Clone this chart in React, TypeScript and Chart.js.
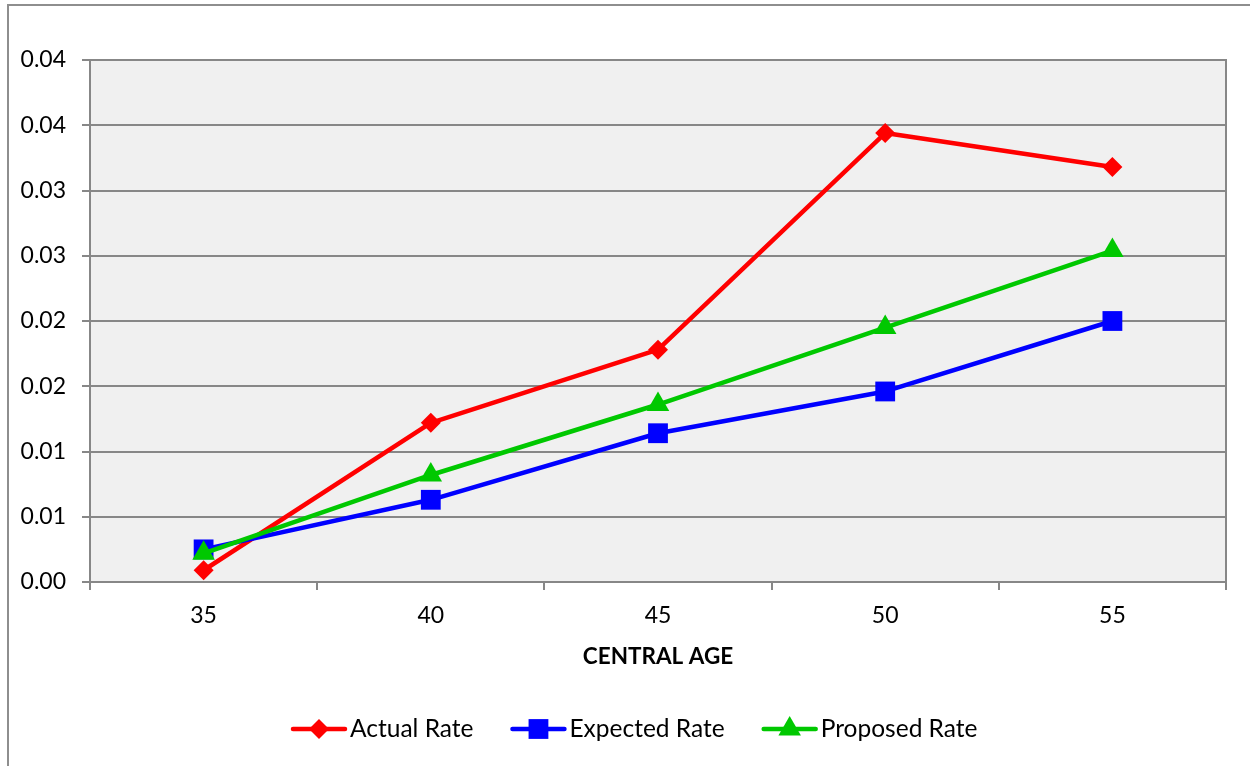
import { useEffect, useRef } from "react";
import { Chart, registerables } from "chart.js";

Chart.register(...registerables);

// Central ages on the category axis
const categories = ["35", "40", "45", "50", "55"];

// Rates per central age
const actualRate = [0.0009, 0.0122, 0.0178, 0.0344, 0.0318];
const expectedRate = [0.0025, 0.0063, 0.0114, 0.0146, 0.02];
const proposedRate = [0.0022, 0.0082, 0.0136, 0.0195, 0.0254];

const seriesNames = ["Actual Rate", "Expected Rate", "Proposed Rate"];

// Value axis: 0 .. 0.04 in steps of 0.005, labelled with two decimals (rounded half up)
const yMin = 0;
const yMax = 0.04;
const yStep = 0.005;
const yTickLabels = ["0.00", "0.01", "0.01", "0.02", "0.02", "0.03", "0.03", "0.04", "0.04"];

const xAxisTitle = "CENTRAL AGE";

const FONT = "Lato, 'Liberation Sans', sans-serif";
const GRID = "#878787";
const PLOT_BG = "#f0f0f0";
const RED = "#ff0000";
const BLUE = "#0000ff";
const GREEN = "#00c800";
const LINE_W = 4.5;

type Marker = "diamond" | "square" | "triangle";

function drawMarker(ctx: CanvasRenderingContext2D, kind: Marker, x: number, y: number, r: number, color: string) {
  ctx.save();
  ctx.fillStyle = color;
  ctx.beginPath();
  if (kind === "diamond") {
    ctx.moveTo(x - r, y);
    ctx.lineTo(x, y - r);
    ctx.lineTo(x + r, y);
    ctx.lineTo(x, y + r);
  } else if (kind === "square") {
    const s = r * Math.SQRT1_2;
    ctx.rect(x - s, y - s, 2 * s, 2 * s);
  } else {
    ctx.moveTo(x, y - r);
    ctx.lineTo(x + r * Math.sin((2 * Math.PI) / 3), y + r / 2);
    ctx.lineTo(x - r * Math.sin((2 * Math.PI) / 3), y + r / 2);
  }
  ctx.closePath();
  ctx.fill();
  ctx.restore();
}

// White page, outer chart frame and plot-area fill
const framePlugin = {
  id: "frame",
  beforeDraw(chart: any) {
    const { ctx, width, height, chartArea: a } = chart;
    ctx.save();
    ctx.fillStyle = "#ffffff";
    ctx.fillRect(0, 0, width, height);
    ctx.strokeStyle = "#8e8e8e";
    ctx.lineWidth = 2;
    ctx.beginPath();
    ctx.moveTo(8, height);
    ctx.lineTo(8, 5);
    ctx.lineTo(width, 5);
    ctx.stroke();
    ctx.fillStyle = PLOT_BG;
    ctx.fillRect(a.left, a.top, a.right - a.left, a.bottom - a.top);
    ctx.restore();
  },
  beforeDatasetsDraw(chart: any) {
    const { ctx, chartArea: a } = chart;
    ctx.save();
    ctx.strokeStyle = GRID;
    ctx.lineWidth = 2;
    ctx.strokeRect(a.left, a.top, a.right - a.left, a.bottom - a.top);
    ctx.restore();
  },
};

// Legend with a line segment and marker for each series
const markerKinds: Marker[] = ["diamond", "square", "triangle"];
const markerSizes = [10, 14, 13];

const lineLegendPlugin = {
  id: "lineLegend",
  afterDraw(chart: any) {
    const { ctx } = chart;
    const datasets = chart.data.datasets;
    const seg = 56;
    const gap = 3;
    const sep = 37;
    const y = 729;
    ctx.save();
    ctx.font = `24.5px ${FONT}`;
    const widths = datasets.map((d: any) => ctx.measureText(d.label).width);
    let x = 291;
    datasets.forEach((d: any, i: number) => {
      ctx.strokeStyle = d.borderColor;
      ctx.lineWidth = LINE_W;
      ctx.lineCap = "round";
      ctx.beginPath();
      ctx.moveTo(x + 2, y);
      ctx.lineTo(x + seg - 2, y);
      ctx.stroke();
      drawMarker(ctx, markerKinds[i], x + seg / 2, y, markerSizes[i], d.borderColor);
      ctx.fillStyle = "#000000";
      ctx.textBaseline = "middle";
      ctx.textAlign = "left";
      ctx.fillText(d.label, x + seg + gap, y);
      x += seg + gap + widths[i] + sep;
    });
    ctx.restore();
  },
};

export default function App() {
  const canvasRef = useRef<HTMLCanvasElement | null>(null);

  useEffect(() => {
    const canvas = canvasRef.current;
    if (!canvas) return;

    const series = [
      { label: seriesNames[0], data: actualRate, color: RED, style: "rectRot", radius: markerSizes[0], order: 3 },
      { label: seriesNames[1], data: expectedRate, color: BLUE, style: "rect", radius: markerSizes[1], order: 2 },
      { label: seriesNames[2], data: proposedRate, color: GREEN, style: "triangle", radius: markerSizes[2], order: 1 },
    ];

    const chart = new Chart(canvas, {
      type: "line",
      data: {
        labels: categories,
        datasets: series.map((s) => ({
          label: s.label,
          data: s.data,
          borderColor: s.color,
          backgroundColor: s.color,
          borderWidth: LINE_W,
          borderJoinStyle: "round" as const,
          borderCapStyle: "round" as const,
          tension: 0,
          fill: false,
          pointStyle: s.style as any,
          pointRadius: s.radius,
          pointHoverRadius: s.radius,
          pointBackgroundColor: s.color,
          pointBorderColor: s.color,
          pointBorderWidth: 0,
          order: s.order,
        })),
      },
      options: {
        responsive: false,
        animation: false,
        devicePixelRatio: 1,
        layout: { padding: { top: 60, right: 24, bottom: 84, left: 0 } },
        plugins: {
          legend: { display: false },
          tooltip: { enabled: false },
          title: { display: false },
        },
        scales: {
          x: {
            type: "category",
            offset: true,
            grid: {
              offset: true,
              drawOnChartArea: false,
              drawTicks: true,
              tickLength: 8,
              color: GRID,
              lineWidth: 2,
            },
            border: { display: true, color: GRID, width: 2 },
            ticks: {
              color: "#000000",
              font: { family: FONT, size: 23 },
              padding: 12,
              maxRotation: 0,
            },
            title: {
              display: true,
              text: xAxisTitle,
              color: "#000000",
              font: { family: FONT, size: 22.5, weight: "bold" },
              padding: { top: 0, bottom: 12 },
            },
            afterFit(scale: any) {
              scale.height = 100;
            },
          },
          y: {
            type: "linear",
            min: yMin,
            max: yMax,
            grid: {
              color: GRID,
              lineWidth: 2,
              drawTicks: true,
              tickLength: 8,
            },
            border: { display: true, color: GRID, width: 2 },
            ticks: {
              stepSize: yStep,
              color: "#000000",
              font: { family: FONT, size: 23 },
              padding: 16,
              callback: (_v: any, i: number) => yTickLabels[i] ?? "",
            },
            afterFit(scale: any) {
              scale.width = 90;
            },
          },
        },
      },
      plugins: [framePlugin, lineLegendPlugin],
    });

    return () => chart.destroy();
  }, []);

  return (
    <div style={{ position: "absolute", left: 0, top: 0, width: 1250, height: 766, background: "#ffffff" }}>
      <canvas ref={canvasRef} width={1250} height={766} style={{ display: "block" }} />
    </div>
  );
}
